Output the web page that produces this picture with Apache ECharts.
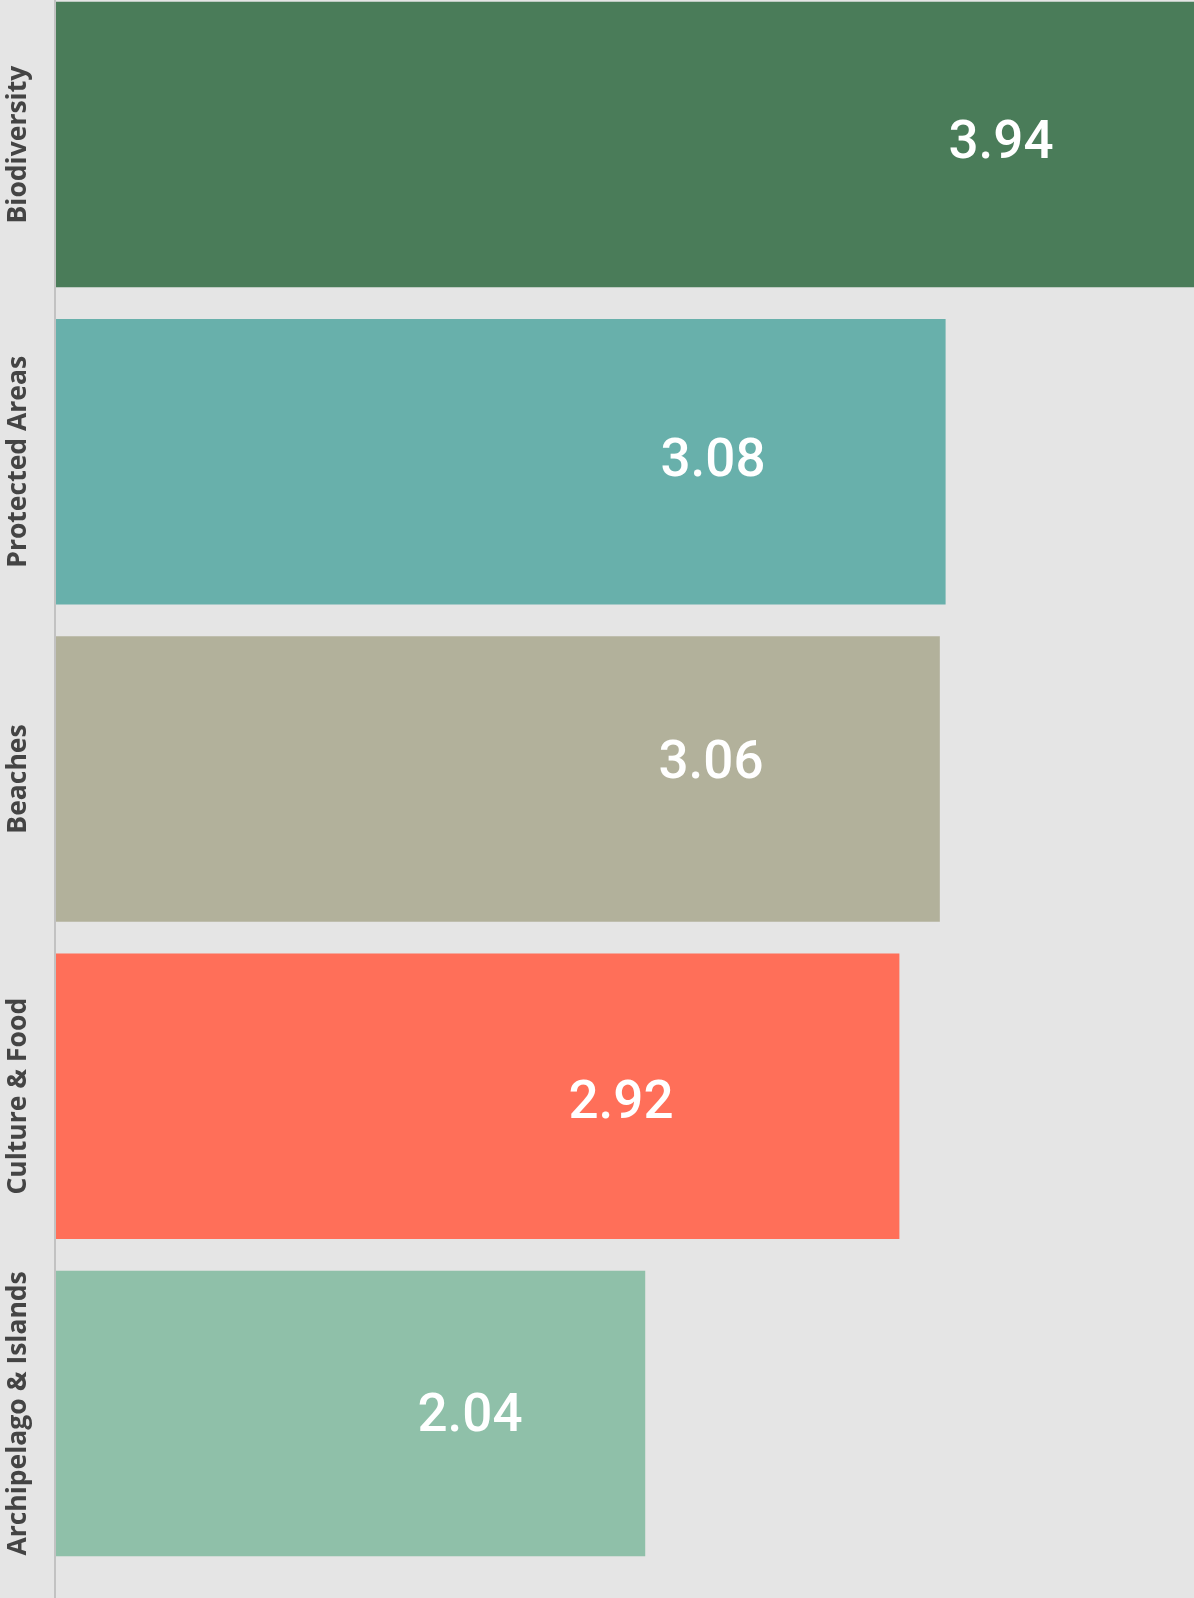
<!DOCTYPE html>
<html>
<head>
<meta charset="utf-8">
<script src="https://cdn.jsdelivr.net/npm/echarts@6/dist/echarts.min.js"></script>
<style>
    html, body { margin: 0; padding: 0; background: #e5e5e5; overflow: hidden; }
    /* the chart area starts a little above the window, like the original crop */
    #chart { width: 1194px; height: 1612px; margin-top: -14px; }
</style>
</head>
<body>
<div id="chart"></div>
<script>
    // data
    const categories = ['Biodiversity', 'Protected Areas', 'Beaches', 'Culture & Food', 'Archipelago & Islands'];
    const scores = [3.94, 3.08, 3.06, 2.92, 2.04];
    const barColors = ['#4a7c59', '#68b0ab', '#b2b19b', '#ff6f59', '#8fc0a9'];
    // where each value label sits inside its bar (px from bar top-left)
    const labelPos = [[945, 143], [657, 144], [655, 128], [565, 151], [414, 147]];

    const chart = echarts.init(document.getElementById('chart'));

    const option = {
        backgroundColor: '#e5e5e5',
        animation: false,
        grid: {
            left: 56,
            right: 0,
            top: 0,
            height: 1586
        },
        xAxis: {
            type: 'value',
            min: 0,
            max: 3.94,
            show: false
        },
        yAxis: {
            type: 'category',
            data: categories,
            inverse: true,
            axisLine: { show: false },
            axisTick: { show: false },
            splitLine: { show: false },
            axisLabel: {
                interval: 0,
                rotate: 90,
                margin: 24,
                fontFamily: 'Open Sans',
                fontWeight: 'bold',
                fontSize: 26.5,
                color: '#444444'
            }
        },
        series: [{
            type: 'bar',
            barCategoryGap: '10%',
            data: scores.map((v, i) => ({
                value: v,
                itemStyle: { color: barColors[i] },
                label: { position: labelPos[i] }
            })),
            label: {
                show: true,
                align: 'center',
                verticalAlign: 'middle',
                color: '#ffffff',
                fontFamily: 'Roboto',
                fontWeight: 500,
                fontSize: 53,
                formatter: p => p.value.toFixed(2)
            }
        }],
        graphic: [{
            type: 'rect',
            shape: { x: 54, y: 0, width: 2, height: 1612 },
            style: { fill: '#c2c2c2' },
            z: 10
        }]
    };

    chart.setOption(option);
</script>
</body>
</html>
